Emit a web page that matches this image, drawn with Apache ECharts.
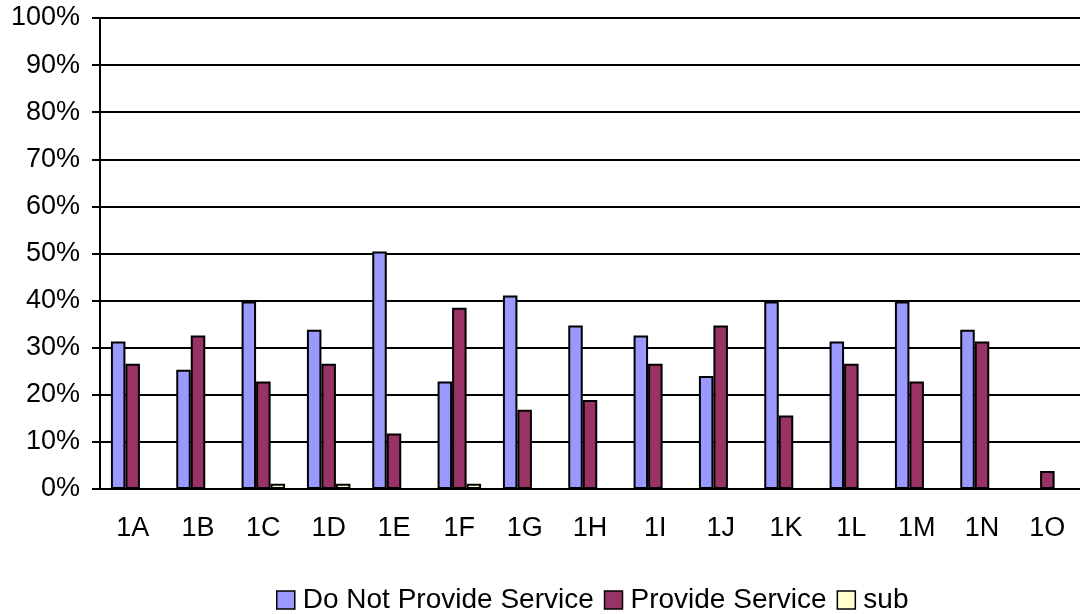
<!DOCTYPE html>
<html>
<head>
<meta charset="utf-8">
<script src="https://cdn.jsdelivr.net/npm/echarts@6/dist/echarts.min.js"></script>
<style>
  html, body { margin: 0; padding: 0; background: #fff; }
  #grafico { width: 1080px; height: 614px; }
</style>
</head>
<body>
<div id="grafico"></div>
<script>
// dados (percentual)
const categorias = ["1A", "1B", "1C", "1D", "1E", "1F", "1G", "1H", "1I", "1J", "1K", "1L", "1M", "1N", "1O"]
const naoPrestam = [31.3, 25.3, 39.8, 33.8, 50.4, 22.8, 41.1, 34.7, 32.6, 24.0, 39.8, 31.3, 39.8, 33.8, 0]
const prestam = [26.6, 32.6, 22.8, 26.6, 11.8, 38.5, 16.8, 18.9, 26.6, 34.7, 15.6, 26.6, 22.8, 31.3, 3.8]
const sub = [0, 0, 1.1, 1.1, 0, 1.1, 0, 0, 0, 0, 0, 0, 0, 0, 0]
const ticksY = [0, 10, 20, 30, 40, 50, 60, 70, 80, 90, 100]

const fonte = "Liberation Sans"

let myChart = echarts.init(document.getElementById("grafico"))

let barra = (nome, dados) => ({
  name: nome,
  type: "bar",
  data: dados,
  barWidth: 14.5,
  barGap: "0%",
  itemStyle: { borderColor: "#000", borderWidth: 2 },
})

let option = {
  animation: false,
  color: ["#9999FF", "#993366", "#FFFFCC"],
  textStyle: { fontFamily: fonte, color: "#000" },
  legend: {
    top: 586,
    left: 276,
    icon: "rect",
    itemWidth: 18,
    itemHeight: 18,
    itemGap: 10,
    padding: 0,
    itemStyle: { borderColor: "#000", borderWidth: 1.5 },
    textStyle: { fontFamily: fonte, fontSize: 28, color: "#000", padding: [0, 0, 0, 3] },
  },
  grid: {
    left: 100,
    top: 18,
    width: 985,
    bottom: 125,
    containLabel: false,
  },
  xAxis: {
    type: "category",
    data: categorias,
    axisLine: { lineStyle: { color: "#000", width: 2 } },
    axisTick: { length: 8, lineStyle: { color: "#000", width: 2 } },
    axisLabel: { fontFamily: fonte, fontSize: 27, color: "#000", margin: 26 },
  },
  yAxis: {
    type: "value",
    min: ticksY[0],
    max: ticksY[ticksY.length - 1],
    interval: 10,
    axisLine: { show: true, lineStyle: { color: "#000", width: 2 } },
    axisTick: { show: true, length: 8, lineStyle: { color: "#000", width: 2 } },
    splitLine: { lineStyle: { color: "#000", width: 2 } },
    axisLabel: {
      fontFamily: fonte,
      fontSize: 27,
      color: "#000",
      margin: 20,
      formatter: v => v + "%",
    },
  },
  series: [
    barra("Do Not Provide Service", naoPrestam),
    barra("Provide Service", prestam),
    barra("sub", sub),
  ],
}

option && myChart.setOption(option)
</script>
</body>
</html>
